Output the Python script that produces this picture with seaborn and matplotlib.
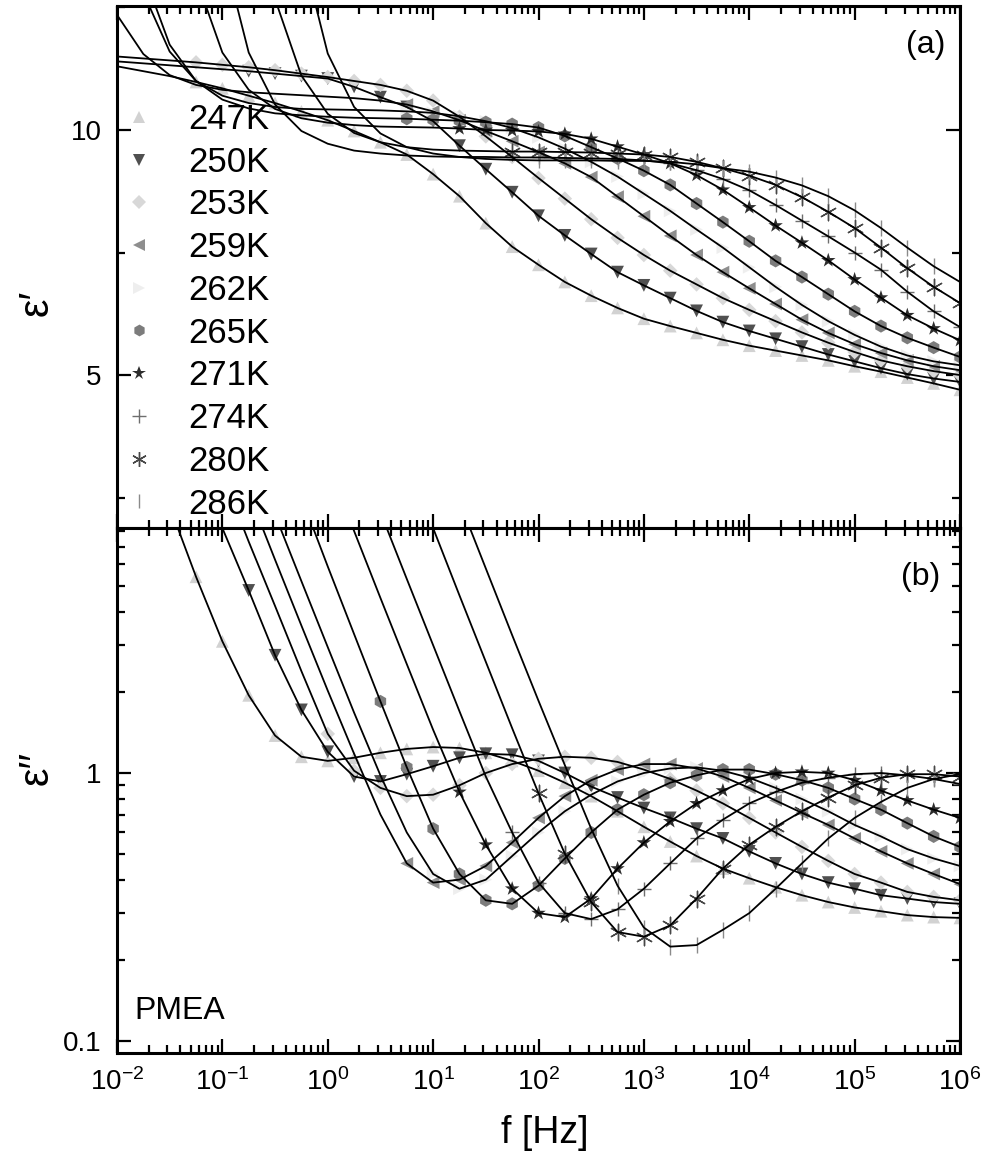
import numpy as np
import pandas as pd
import matplotlib
matplotlib.use("Agg")
import matplotlib.pyplot as plt
import seaborn as sns
from matplotlib.lines import Line2D
from matplotlib.ticker import LogLocator, FixedLocator, FixedFormatter, NullFormatter

nan = float("nan")

# ---------------- data ----------------
log_f = [-2.0, -1.75, -1.5, -1.25, -1.0, -0.75, -0.5, -0.25, 0.0, 0.25, 0.5, 0.75,
         1.0, 1.25, 1.5, 1.75, 2.0, 2.25, 2.5, 2.75, 3.0, 3.25, 3.5, 3.75,
         4.0, 4.25, 4.5, 4.75, 5.0, 5.25, 5.5, 5.75, 6.0]

temperatures = ["247K", "250K", "253K", "259K", "262K", "265K", "271K", "274K", "280K", "286K"]

x_tick_exponents = [-2, -1, 0, 1, 2, 3, 4, 5, 6]

# epsilon' (panel a)
e1_247 = [11.30, 11.20, 11.10, 10.98, 10.85, 10.70, 10.55, 10.38, 10.20, 9.98, 9.75, 9.50, 9.10, 8.65, 8.10, 7.62, 7.25, 6.90, 6.62, 6.37, 6.15, 6.00, 5.86, 5.72, 5.60, 5.50, 5.40, 5.30, 5.18, 5.07, 4.95, 4.83, 4.70]
e1_250 = [11.40, 11.36, 11.32, 11.28, 11.24, 11.20, 11.15, 11.10, 11.05, 10.88, 10.67, 10.47, 10.18, 9.68, 9.20, 8.73, 8.25, 7.85, 7.47, 7.10, 6.83, 6.57, 6.31, 6.08, 5.90, 5.74, 5.58, 5.42, 5.28, 5.14, 5.02, 4.93, 4.86]
e1_253 = [11.50, 11.46, 11.42, 11.38, 11.33, 11.28, 11.22, 11.15, 11.08, 11.00, 10.92, 10.80, 10.60, 10.27, 9.87, 9.45, 9.02, 8.60, 8.18, 7.80, 7.45, 7.13, 6.85, 6.57, 6.33, 6.10, 5.87, 5.66, 5.47, 5.30, 5.18, 5.08, 5.00]
e1_259 = [12.35, 11.55, 11.12, 10.92, 10.82, 10.77, 10.74, 10.71, 10.68, 10.65, 10.60, 10.52, 10.38, 10.20, 9.98, 9.77, 9.55, 9.32, 9.04, 8.64, 8.24, 7.84, 7.45, 7.10, 6.77, 6.45, 6.13, 5.86, 5.63, 5.45, 5.30, 5.18, 5.10]
e1_262 = [14.40, 12.80, 11.60, 11.00, 10.70, 10.55, 10.47, 10.43, 10.42, 10.41, 10.40, 10.38, 10.35, 10.28, 10.18, 10.04, 9.85, 9.62, 9.35, 9.05, 8.70, 8.35, 7.97, 7.60, 7.20, 6.80, 6.43, 6.10, 5.82, 5.58, 5.40, 5.28, 5.20]
e1_265 = [14.60, 13.20, 11.74, 11.00, 10.62, 10.44, 10.34, 10.30, 10.27, 10.25, 10.24, 10.23, 10.21, 10.19, 10.16, 10.12, 10.05, 9.88, 9.65, 9.42, 9.17, 8.88, 8.50, 8.12, 7.73, 7.33, 7.00, 6.65, 6.30, 6.00, 5.76, 5.56, 5.37]
e1_271 = [nan, nan, 16.10, 13.10, 11.58, 10.82, 10.43, 10.24, 10.15, 10.10, 10.07, 10.06, 10.05, 10.03, 10.00, 9.99, 9.97, 9.92, 9.82, 9.66, 9.50, 9.32, 9.08, 8.78, 8.42, 8.05, 7.70, 7.34, 6.95, 6.58, 6.22, 5.95, 5.71]
e1_274 = [nan, nan, nan, 18.00, 13.70, 11.58, 10.52, 9.98, 9.72, 9.58, 9.52, 9.48, 9.46, 9.45, 9.45, 9.44, 9.44, 9.43, 9.42, 9.41, 9.38, 9.32, 9.18, 9.00, 8.77, 8.47, 8.15, 7.83, 7.50, 7.15, 6.70, 6.30, 5.98]
e1_280 = [nan, nan, nan, nan, nan, 15.80, 12.67, 11.11, 10.33, 9.94, 9.75, 9.65, 9.60, 9.58, 9.57, 9.56, 9.56, 9.55, 9.54, 9.52, 9.50, 9.45, 9.35, 9.22, 9.07, 8.88, 8.63, 8.33, 8.00, 7.60, 7.18, 6.80, 6.47]
e1_286 = [nan, nan, nan, nan, nan, nan, nan, 13.70, 11.56, 10.47, 9.93, 9.65, 9.52, 9.45, 9.41, 9.39, 9.38, 9.38, 9.38, 9.37, 9.37, 9.35, 9.30, 9.22, 9.15, 9.03, 8.87, 8.65, 8.36, 8.00, 7.60, 7.22, 6.90]

# epsilon'' (panel b)
e2_247 = [nan, nan, 9.90, 5.40, 3.10, 1.95, 1.38, 1.15, 1.11, 1.14, 1.19, 1.23, 1.25, 1.24, 1.19, 1.11, 1.02, 0.92, 0.82, 0.72, 0.63, 0.555, 0.49, 0.44, 0.405, 0.375, 0.35, 0.33, 0.315, 0.305, 0.295, 0.29, 0.288]
e2_250 = [nan, nan, nan, 14.5, 8.2, 4.8, 2.75, 1.72, 1.20, 0.97, 0.93, 0.99, 1.06, 1.14, 1.18, 1.17, 1.11, 1.00, 0.89, 0.81, 0.74, 0.68, 0.62, 0.57, 0.51, 0.46, 0.42, 0.39, 0.37, 0.35, 0.34, 0.33, 0.325]
e2_253 = [nan, nan, nan, nan, 13.0, 7.3, 4.2, 2.4, 1.40, 1.02, 0.88, 0.82, 0.83, 0.90, 1.00, 1.08, 1.13, 1.15, 1.14, 1.10, 1.03, 0.95, 0.86, 0.77, 0.68, 0.60, 0.53, 0.47, 0.42, 0.39, 0.36, 0.345, 0.335]
e2_259 = [nan, nan, nan, nan, nan, 11.1, 6.25, 3.55, 2.03, 1.18, 0.70, 0.46, 0.39, 0.40, 0.45, 0.55, 0.68, 0.82, 0.94, 1.03, 1.08, 1.08, 1.04, 0.97, 0.88, 0.79, 0.71, 0.64, 0.57, 0.51, 0.46, 0.42, 0.385]
e2_262 = [nan, nan, nan, nan, nan, nan, 9.2, 5.2, 2.95, 1.68, 0.98, 0.60, 0.42, 0.37, 0.40, 0.49, 0.60, 0.72, 0.83, 0.93, 1.00, 1.04, 1.05, 1.02, 0.96, 0.88, 0.80, 0.72, 0.64, 0.58, 0.52, 0.48, 0.45]
e2_265 = [nan, nan, nan, nan, nan, nan, nan, 10.7, 5.9, 3.3, 1.85, 1.05, 0.62, 0.42, 0.335, 0.325, 0.38, 0.48, 0.60, 0.73, 0.83, 0.92, 0.98, 1.03, 1.03, 0.99, 0.94, 0.88, 0.80, 0.73, 0.65, 0.58, 0.53]
e2_271 = [nan, nan, nan, nan, nan, nan, nan, nan, 14.3, 8.0, 4.5, 2.55, 1.45, 0.85, 0.54, 0.37, 0.30, 0.29, 0.34, 0.44, 0.55, 0.66, 0.77, 0.86, 0.95, 1.00, 1.01, 1.00, 0.94, 0.86, 0.79, 0.73, 0.68]
e2_274 = [nan, nan, nan, nan, nan, nan, nan, nan, nan, nan, 9.4, 5.3, 3.0, 1.7, 0.97, 0.60, 0.39, 0.30, 0.285, 0.31, 0.37, 0.46, 0.57, 0.67, 0.77, 0.85, 0.92, 0.96, 0.99, 1.00, 0.98, 0.95, 0.91]
e2_280 = [nan, nan, nan, nan, nan, nan, nan, nan, nan, nan, nan, 14.6, 8.2, 4.6, 2.6, 1.47, 0.84, 0.50, 0.33, 0.255, 0.245, 0.27, 0.34, 0.44, 0.54, 0.63, 0.72, 0.81, 0.90, 0.96, 0.99, 0.99, 0.97]
e2_286 = [nan, nan, nan, nan, nan, nan, nan, nan, nan, nan, nan, nan, nan, 10.3, 5.8, 3.27, 1.86, 1.07, 0.62, 0.38, 0.265, 0.225, 0.228, 0.26, 0.30, 0.37, 0.46, 0.57, 0.68, 0.78, 0.88, 0.95, 0.99]

# first frequency (log10) at which measured points are shown
first_point_a = [-1.25, -0.75, -1.25, 0.75, 0.75, 0.75, 1.25, 2.0, 1.75, 2.0]
first_point_b = [-1.25, -0.75, 0.0, 0.75, 1.0, 0.5, 1.25, 1.75, 2.0, 2.75]

eps1 = [e1_247, e1_250, e1_253, e1_259, e1_262, e1_265, e1_271, e1_274, e1_280, e1_286]
eps2 = [e2_247, e2_250, e2_253, e2_259, e2_262, e2_265, e2_271, e2_274, e2_280, e2_286]

# ---------------- styles ----------------
mk_shape = ['^', 'v', 'D', '<', '>', 'h', '*', '+', (6, 2, 0), '|']
mk_color = ['#d2d2d2', '#505050', '#d8d8d8', '#8e8e8e', '#eeeeee', '#7c7c7c',
            '#2c2c2c', '#6e6e6e', '#474747', '#8a8a8a']
mk_size = [85, 85, 55, 85, 85, 90, 120, 110, 140, 130]
mk_filled = [True, True, True, True, True, True, True, False, False, False]

sns.set_style("ticks")
plt.rcParams['font.family'] = ['Liberation Sans', 'DejaVu Sans']
plt.rcParams['mathtext.fontset'] = 'custom'
plt.rcParams['mathtext.rm'] = 'Liberation Sans'
plt.rcParams['mathtext.it'] = 'Liberation Sans:italic'
plt.rcParams['mathtext.default'] = 'regular'
for key in ('text.color', 'axes.labelcolor', 'xtick.color', 'ytick.color', 'axes.edgecolor'):
    plt.rcParams[key] = 'black'

W, H = 984, 1157
fig = plt.figure(figsize=(W / 100, H / 100), dpi=100)
L, R = 117, 960
ax1 = fig.add_axes([L / W, 1 - 528 / H, (R - L) / W, (528 - 6) / H])
ax2 = fig.add_axes([L / W, 1 - 1053 / H, (R - L) / W, (1053 - 528) / H])

f = 10.0 ** np.array(log_f)

for ax in (ax1, ax2):
    ax.set_xscale('log')
ax2.set_yscale('log')

for ax, series, starts in ((ax1, eps1, first_point_a), (ax2, eps2, first_point_b)):
    for i, T in enumerate(temperatures):
        df = pd.DataFrame({'f': f, 'lf': log_f, 'v': series[i]}).dropna()
        pts = df[df['lf'] >= starts[i]]
        if mk_filled[i]:
            sns.scatterplot(data=pts, x='f', y='v', ax=ax, marker=mk_shape[i],
                            color=mk_color[i], s=mk_size[i], edgecolor='none',
                            linewidth=0, legend=False, zorder=2)
        else:
            sns.scatterplot(data=pts, x='f', y='v', ax=ax, marker=mk_shape[i],
                            color=mk_color[i], s=mk_size[i], edgecolor=mk_color[i],
                            linewidth=1.0, legend=False, zorder=2)
    for i, T in enumerate(temperatures):
        df = pd.DataFrame({'f': f, 'v': series[i]}).dropna()
        sns.lineplot(data=df, x='f', y='v', ax=ax, color='black', linewidth=1.3,
                     estimator=None, sort=False, legend=False, zorder=3)

# axes limits / ticks
x_major = [10.0 ** e for e in x_tick_exponents]
x_labels = [r'$10^{%d}$' % e for e in x_tick_exponents]
for ax in (ax1, ax2):
    ax.set_xlim(1e-2, 1e6)
    ax.xaxis.set_major_locator(FixedLocator(x_major))
    ax.xaxis.set_major_formatter(FixedFormatter(x_labels))
    ax.xaxis.set_minor_locator(LogLocator(base=10, subs=np.arange(2, 10), numticks=200))
    ax.xaxis.set_minor_formatter(NullFormatter())
    ax.tick_params(which='both', direction='in', top=True, right=True,
                   width=1.6, colors='black', labelsize=20)
    ax.tick_params(which='major', length=10, pad=11)
    ax.tick_params(which='minor', length=5.5)
    for sp in ax.spines.values():
        sp.set_linewidth(2.2)
        sp.set_color('black')
    ax.set_xlabel('')
    ax.set_ylabel('')

ax1.set_ylim(1.88, 12.53)
ax1.yaxis.set_major_locator(FixedLocator([5, 10]))
ax1.yaxis.set_major_formatter(FixedFormatter(['5', '10']))
ax1.yaxis.set_minor_locator(FixedLocator([2.5, 7.5, 12.5]))
ax1.tick_params(labelbottom=False)

ax2.set_ylim(0.0902, 8.21)
ax2.yaxis.set_major_locator(FixedLocator([0.1, 1]))
ax2.yaxis.set_major_formatter(FixedFormatter(['0.1', '1']))
ax2.yaxis.set_minor_locator(LogLocator(base=10, subs=np.arange(2, 10), numticks=50))
ax2.yaxis.set_minor_formatter(NullFormatter())

# legend
handles = []
for i, T in enumerate(temperatures):
    handles.append(Line2D([], [], linestyle='none', marker=mk_shape[i], color=mk_color[i],
                          markerfacecolor=mk_color[i] if mk_filled[i] else 'none',
                          markeredgecolor='none' if mk_filled[i] else mk_color[i],
                          markeredgewidth=0 if mk_filled[i] else 1.0,
                          markersize=np.sqrt(mk_size[i]) * 0.9))
ax1.legend(handles, temperatures, loc='upper left', frameon=False,
           bbox_to_anchor=((122 - L) / (R - L), (528 - 103) / 522),
           borderaxespad=0, borderpad=0, handlelength=1.0, handletextpad=0.9,
           labelspacing=0.28, fontsize=25)

# texts
ax1.text((945 - L) / (R - L), (528 - 45) / 522, '(a)', transform=ax1.transAxes,
         ha='right', va='center', fontsize=23)
ax2.text((940 - L) / (R - L), (1053 - 577) / 525, '(b)', transform=ax2.transAxes,
         ha='right', va='center', fontsize=23)
ax2.text((134 - L) / (R - L), (1053 - 1011) / 525, 'PMEA', transform=ax2.transAxes,
         ha='left', va='center', fontsize=23)

fig.text(37 / W, 1 - 303 / H, 'ε′', rotation=90, ha='center', va='center', fontsize=30)
fig.text(37 / W, 1 - 768 / H, 'ε′′', rotation=90, ha='center', va='center', fontsize=30)
fig.text(545 / W, 1 - 1133 / H, 'f [Hz]', ha='center', va='center', fontsize=27)

fig.savefig('out.png', dpi=100)
